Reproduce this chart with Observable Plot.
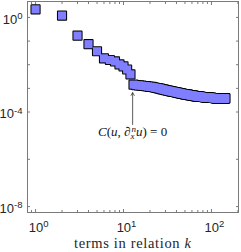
<!DOCTYPE html>
<html><head><meta charset="utf-8">
<script src="https://cdn.jsdelivr.net/npm/d3@7"></script>
<script src="https://cdn.jsdelivr.net/npm/@observablehq/plot@0.6"></script>
<style>html,body{margin:0;padding:0;background:#fff;} svg{display:block}</style>
</head><body><div id="chart"></div>
<script>
// ---- data ----
const kMax = 144;
const residual = [
  2.2, 1.2, 0.17, 0.074, 0.037, 0.0186, 0.0159, 0.0138, 0.0103, 0.0085, 0.0063, 0.0039, 0.00144,
  13.6e-4, 13.3e-4, 13.0e-4, 12.6e-4, 12.4e-4, 12.0e-4, 11.6e-4,
  11.5e-4, 11.1e-4, 10.6e-4, 10.4e-4, 10.0e-4, 9.8e-4, 9.3e-4, 9.0e-4, 8.8e-4, 8.4e-4,
  8.3e-4, 8.0e-4, 7.9e-4, 7.6e-4, 7.5e-4, 7.3e-4, 7.2e-4, 7.0e-4, 6.9e-4, 6.7e-4,
  6.6e-4, 6.5e-4, 6.3e-4, 6.2e-4, 6.1e-4, 6.0e-4, 5.9e-4, 5.8e-4, 5.7e-4, 5.6e-4,
  5.6e-4, 5.5e-4, 5.4e-4, 5.4e-4, 5.3e-4, 5.2e-4, 5.2e-4, 5.1e-4, 5.0e-4, 5.0e-4,
  4.9e-4, 4.9e-4, 4.8e-4, 4.8e-4, 4.7e-4, 4.7e-4, 4.7e-4, 4.6e-4, 4.6e-4, 4.6e-4,
  4.5e-4, 4.5e-4, 4.5e-4, 4.4e-4, 4.4e-4, 4.4e-4, 4.4e-4, 4.3e-4, 4.3e-4, 4.3e-4,
  4.3e-4, 4.2e-4, 4.2e-4, 4.2e-4, 4.2e-4, 4.2e-4, 4.1e-4, 4.1e-4, 4.1e-4, 4.1e-4,
  4.1e-4, 4.0e-4, 4.0e-4, 4.0e-4, 4.0e-4, 4.0e-4, 4.0e-4, 3.95e-4, 3.95e-4, 3.95e-4,
  3.95e-4, 3.9e-4, 3.9e-4, 3.9e-4, 3.9e-4, 3.9e-4, 3.9e-4, 3.9e-4, 3.85e-4, 3.85e-4,
  3.85e-4, 3.85e-4, 3.85e-4, 3.85e-4, 3.85e-4, 3.8e-4, 3.8e-4, 3.8e-4, 3.8e-4, 3.8e-4,
  3.8e-4, 3.8e-4, 3.8e-4, 3.8e-4, 3.8e-4, 3.8e-4, 3.78e-4, 3.78e-4, 3.78e-4, 3.78e-4,
  3.78e-4, 3.78e-4, 3.78e-4, 3.78e-4, 3.76e-4, 3.76e-4, 3.76e-4, 3.76e-4, 3.76e-4, 3.76e-4,
  3.76e-4, 3.76e-4, 3.75e-4, 3.75e-4
];
const xMajorTicks = [1, 10, 100];
const xMinorTicks = [0.9, 2, 3, 4, 5, 6, 7, 8, 9, 20, 30, 40, 50, 60, 70, 80, 90, 200];
const yTicks = [1, 0.1, 0.01, 1e-3, 1e-4, 1e-6, 1e-8];
const yLabelTicks = [1, 1e-4, 1e-8];
const xTitleText = "terms in relation ";
const xTitleVar = "k";
const annotation = [{k: 12.7, from: 2.95e-5, to: 6.6e-4, labelAt: 1.5e-5}];

// ---- build ----
const data = d3.range(1, kMax + 1).map((k, i) => ({k, r: residual[i]}));
const W = 241, H = 252, mL = 27, mR = 3, mT = 1, mB = 40;
const axisColor = "#7a7a7a", textColor = "#262626";
const fill = "#7f7fff";

const chart = Plot.plot({
  width: W, height: H,
  marginLeft: mL, marginRight: mR, marginTop: mT, marginBottom: mB,
  x: {type: "log", domain: [0.81, 203], label: null},
  y: {type: "log", domain: [Math.pow(10, -8.25), Math.pow(10, 0.674)], label: null},
  style: {fontFamily: "'Liberation Sans', Arial, sans-serif", fontSize: "13px", color: textColor, background: "#fff"},
  marks: [
    Plot.frame({stroke: axisColor, strokeWidth: 1}),
    Plot.axisX({anchor: "bottom", ticks: xMajorTicks, tickSize: -3, tickFormat: () => "", stroke: axisColor, label: null}),
    Plot.axisX({anchor: "bottom", ticks: xMinorTicks, tickSize: -2, tickFormat: () => "", stroke: axisColor, label: null}),
    Plot.axisX({anchor: "top", ticks: xMajorTicks, tickSize: -3, tickFormat: () => "", stroke: axisColor, label: null}),
    Plot.axisX({anchor: "top", ticks: xMinorTicks, tickSize: -2, tickFormat: () => "", stroke: axisColor, label: null}),
    Plot.axisY({anchor: "left", ticks: yTicks, tickSize: -3, tickFormat: () => "", stroke: axisColor, label: null}),
    Plot.axisY({anchor: "right", ticks: yTicks, tickSize: -3, tickFormat: () => "", stroke: axisColor, label: null}),
    Plot.axisX({anchor: "bottom", ticks: xMajorTicks, tickSize: 0, tickPadding: 10, dx: 3,
      tickFormat: d => "10^" + Math.round(Math.log10(d)), fill: textColor, label: null}),
    Plot.axisY({anchor: "left", ticks: yLabelTicks, tickSize: 0, tickPadding: 5, dy: 2,
      tickFormat: d => "10^" + Math.round(Math.log10(d)), fill: textColor, label: null}),
    // markers: outline layer then fill layer (merged silhouette)
    Plot.dot(data, {x: "k", y: "r", symbol: "square", r: 4.6, fill: "black", stroke: "black", strokeWidth: 2, strokeLinejoin: "round"}),
    Plot.dot(data, {x: "k", y: "r", symbol: "square", r: 4.6, fill: fill}),
    Plot.arrow(annotation, {x1: "k", x2: "k", y1: "from", y2: "to", stroke: "#333", strokeWidth: 0.8, headLength: 6}),
    Plot.text(annotation, {x: "k", y: "labelAt", text: () => "C(u,∂u)=0", fontFamily: "'Liberation Serif', serif", fontSize: 13, fill: "#111"})
  ]
});

document.getElementById("chart").appendChild(chart);
const svg = d3.select(chart);

// superscripts on tick labels
svg.selectAll('[aria-label="x-axis tick label"] text, [aria-label="y-axis tick label"] text').each(function() {
  const s = this.textContent;
  if (!s.includes("^")) return;
  const [b, e] = s.split("^");
  const t = d3.select(this);
  t.text(null);
  t.append("tspan").text(b);
  t.append("tspan").attr("dy", "-0.45em").attr("font-size", "9.5px").text(e);
});

// annotation math text
svg.selectAll('[aria-label="text"] text').each(function() {
  const t = d3.select(this);
  t.text(null);
  t.append("tspan").attr("font-style", "italic").text("C");
  t.append("tspan").text("(");
  t.append("tspan").attr("font-style", "italic").text("u");
  t.append("tspan").text(", ∂");
  t.append("tspan").attr("font-style", "italic").attr("font-size", "9px").attr("dy", 3).text("x");
  t.append("tspan").attr("font-style", "italic").attr("font-size", "9px").attr("dy", -7).attr("dx", -3).text("n");
  t.append("tspan").attr("font-style", "italic").attr("dy", 4).text("u");
  t.append("tspan").text(") = 0");
});

// x-axis title
const title = svg.append("text")
  .attr("x", (mL + W - mR) / 2).attr("y", 248)
  .attr("text-anchor", "middle")
  .attr("font-family", "'Liberation Serif', serif").attr("font-size", 14.5)
  .attr("fill", textColor)
  .attr("textLength", 117).attr("lengthAdjust", "spacing");
title.append("tspan").text(xTitleText);
title.append("tspan").attr("font-style", "italic").text(xTitleVar);
</script>
</body></html>
